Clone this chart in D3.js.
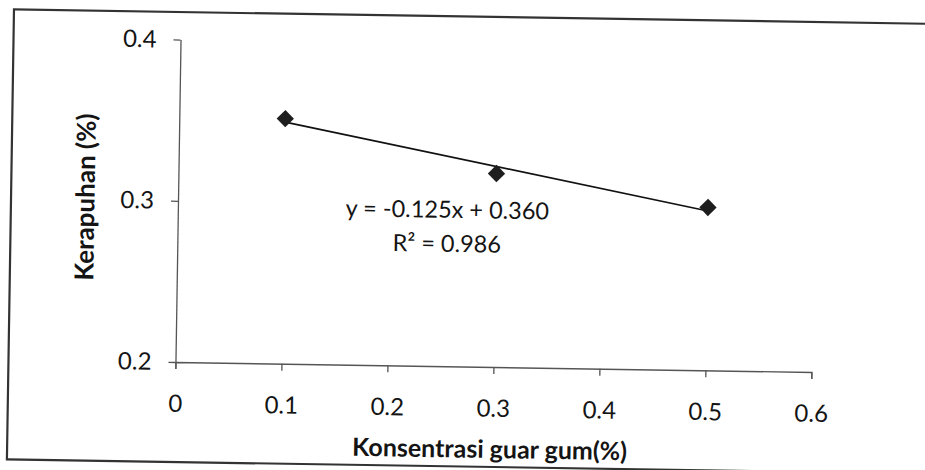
<!DOCTYPE html>
<meta charset="utf-8">
<body style="margin:0;background:#fff">
  <style>
    text { font-family: Lato, "Open Sans", sans-serif; fill: #141414; }
    .axis path, .axis line { stroke: #555; stroke-width: 1.3px; }
    .axis text { font-size: 24px; fill: #141414; }
  </style>
  <div id="chart"></div>
  <script src="https://d3js.org/d3.v7.min.js"></script>
  <script>
    // data
    var concentration = [0.1, 0.3, 0.5];
    var brittleness = [0.352, 0.320, 0.301];
    var xTicks = [0, 0.1, 0.2, 0.3, 0.4, 0.5, 0.6];
    var yTicks = [0.2, 0.3, 0.4];
    var equationText = "y = -0.125x + 0.360";
    var r2Text = "R² = 0.986";
    var xTitle = "Konsentrasi guar gum(%)";
    var yTitle = "Kerapuhan (%)";

    var W = 925, H = 470;
    var plotLeft = 177.5, plotRight = 813.5, plotTop = 44, plotBottom = 366.5;

    var svg = d3.select("#chart").append("svg")
      .attr("width", W)
      .attr("height", H);

    // the scan is slightly tilted
    var g = svg.append("g")
      .attr("transform", "rotate(0.9," + W / 2 + "," + H / 2 + ")");

    // outer frame
    g.append("rect")
      .attr("x", 10.5).attr("y", 16.5)
      .attr("width", 940).attr("height", 450)
      .attr("fill", "none")
      .attr("stroke", "#333")
      .attr("stroke-width", 2.2);

    var x = d3.scaleLinear().domain([0, 0.6]).range([plotLeft, plotRight]);
    var y = d3.scaleLinear().domain([0.2, 0.4]).range([plotBottom, plotTop]);

    // x axis
    var xAxis = g.append("g")
      .attr("class", "axis")
      .attr("transform", "translate(0," + plotBottom + ")")
      .call(d3.axisBottom(x).tickValues(xTicks).tickSize(7).tickSizeOuter(7)
        .tickPadding(38).tickFormat(function(d) { return d === 0 ? "0" : d3.format(".1f")(d); }));
    xAxis.selectAll("text").attr("dy", "0.2em");

    // y axis
    g.append("g")
      .attr("class", "axis")
      .attr("transform", "translate(" + plotLeft + ",0)")
      .call(d3.axisLeft(y).tickValues(yTicks).tickSize(7).tickSizeOuter(0)
        .tickPadding(17).tickFormat(d3.format(".1f")));

    // linear trend (least squares) from the points
    var mx = d3.mean(concentration), my = d3.mean(brittleness);
    var sxy = d3.sum(concentration, function(d, i) { return (d - mx) * (brittleness[i] - my); });
    var sxx = d3.sum(concentration, function(d) { return (d - mx) * (d - mx); });
    var slope = sxy / sxx, icpt = my - slope * mx;
    var x0 = d3.min(concentration), x1 = d3.max(concentration);

    g.append("line")
      .attr("x1", x(x0)).attr("y1", y(icpt + slope * x0))
      .attr("x2", x(x1)).attr("y2", y(icpt + slope * x1))
      .attr("stroke", "#111")
      .attr("stroke-width", 1.6);

    // markers
    var diamond = d3.symbol().type(d3.symbolSquare).size(150);
    g.selectAll(".pt")
      .data(concentration)
      .enter().append("path")
      .attr("class", "pt")
      .attr("d", diamond)
      .attr("transform", function(d, i) {
        return "translate(" + x(d) + "," + y(brittleness[i]) + ") rotate(45)";
      })
      .attr("fill", "#1e1e1e");

    // trend label
    g.append("text")
      .attr("x", 447).attr("y", 218)
      .attr("text-anchor", "middle")
      .style("font-size", "23.5px")
      .text(equationText);
    g.append("text")
      .attr("x", 447).attr("y", 252)
      .attr("text-anchor", "middle")
      .style("font-size", "23.5px")
      .text(r2Text);

    // axis titles
    g.append("text")
      .attr("x", 493).attr("y", 457.5)
      .attr("text-anchor", "middle")
      .style("font-weight", "bold")
      .style("font-size", "25px")
      .text(xTitle);

    g.append("text")
      .attr("transform", "translate(94,203) rotate(-90)")
      .attr("text-anchor", "middle")
      .style("font-weight", "bold")
      .style("font-size", "26px")
      .text(yTitle);
  </script>
</body>
